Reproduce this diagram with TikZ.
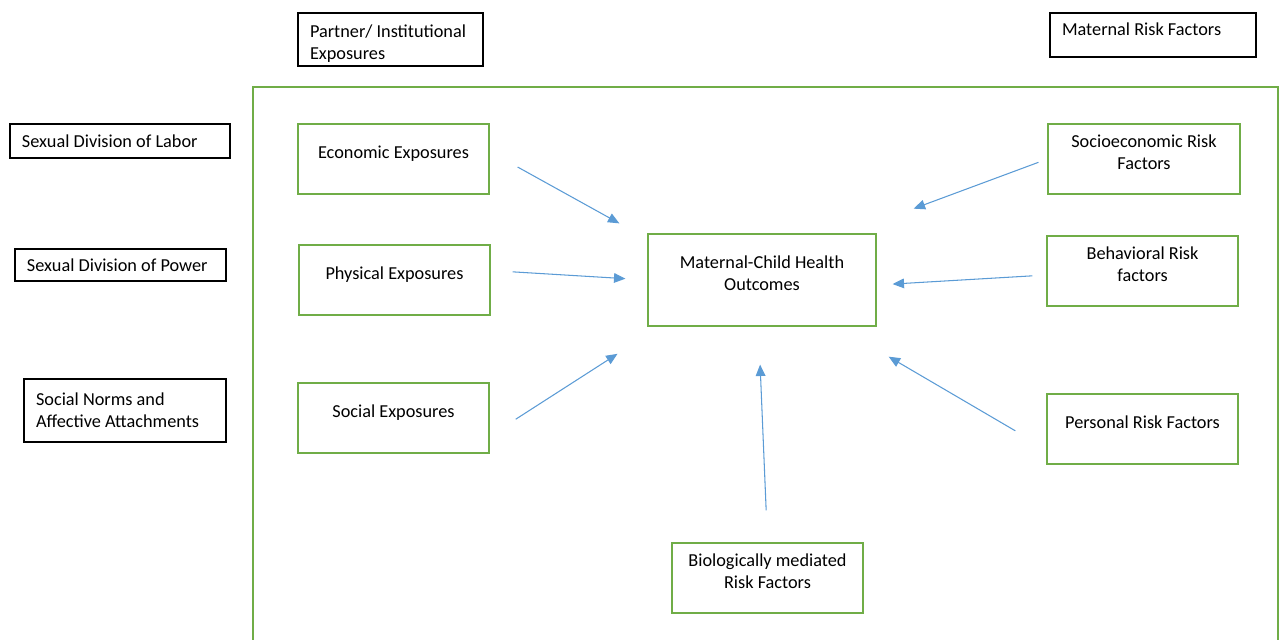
\documentclass[tikz,border=0pt]{standalone}
\usepackage{fontspec}
\setmainfont{Carlito}
\usetikzlibrary{arrows.meta}
\definecolor{boxgreen}{HTML}{70AD47}
\definecolor{arrowblue}{HTML}{5B9BD5}
\tikzstyle{factor} = [rectangle, draw=black, line width=0.8pt, align=flush left, inner xsep=0.24cm, inner ysep=0pt, font=\fontsize{10.4}{12.6}\selectfont]
\tikzstyle{expo} = [rectangle, draw=boxgreen, line width=0.7pt, minimum width=3.82cm, minimum height=1.4cm, align=center, text depth=8pt, font=\fontsize{10.4}{12.8}\selectfont]
\tikzstyle{arrow} = [draw=arrowblue, line width=0.6pt, -{Triangle[length=6.5pt,width=5.5pt]}]

\begin{document}
\begin{tikzpicture}
\useasboundingbox (0,0) rectangle (25.64,-12.78);
% outer frame
\draw [boxgreen, line width=0.7pt] (5.06,-13.2) |- (25.56,-1.74) -- (25.56,-13.2);
% black headings
\node (partner) [factor, minimum width=3.70cm, minimum height=1.06cm, text width=3.22cm, text depth=10pt] at (7.81,-0.79) {Partner/ Institutional\\Exposures};
\node (maternal) [factor, minimum width=4.12cm, minimum height=0.88cm, text width=3.64cm, text depth=7pt] at (23.06,-0.70) {Maternal Risk Factors};
\node (labor) [factor, minimum width=4.40cm, minimum height=0.68cm, text width=3.92cm] at (2.40,-2.82) {Sexual Division of Labor};
\node (power) [factor, minimum width=4.22cm, minimum height=0.64cm, text width=3.74cm] at (2.41,-5.30) {Sexual Division of Power};
\node (norms) [factor, minimum width=4.04cm, minimum height=1.26cm, text width=3.56cm] at (2.50,-8.21) {Social Norms and\\Affective Attachments};
% green boxes
\node (econ) [expo] at (7.87,-3.18) {Economic Exposures};
\node (phys) [expo] at (7.89,-5.60) {Physical Exposures};
\node (social) [expo] at (7.87,-8.36) {Social Exposures};
\node (mch) [expo, minimum width=4.56cm, minimum height=1.84cm] at (15.24,-5.60) {Maternal-Child Health\\Outcomes};
\node (socio) [expo, minimum width=3.84cm] at (22.88,-3.18) {Socioeconomic Risk\\Factors};
\node (behav) [expo] at (22.85,-5.42) {Behavioral Risk\\factors};
\node (personal) [expo] at (22.85,-8.58) {Personal Risk Factors};
\node (bio) [expo] at (15.35,-11.56) {Biologically mediated\\Risk Factors};
% arrows
\draw [arrow, shorten <=0.64cm, shorten >=0.64cm] ([yshift=0.15cm]econ.east) -- ([yshift=-0.11cm]mch.north west);
\draw [arrow, shorten <=0.44cm, shorten >=0.44cm] ([yshift=0.19cm]phys.east) -- (mch.west);
\draw [arrow, shorten <=0.62cm, shorten >=0.71cm] ([yshift=-0.36cm]social.east) -- ([yshift=-0.16cm]mch.south west);
\draw [arrow, shorten <=0.19cm, shorten >=0.79cm] (socio.west) -- ([yshift=0.22cm]mch.north east);
\draw [arrow, shorten <=0.28cm, shorten >=0.32cm] ([yshift=-0.08cm]behav.west) -- ([yshift=-0.10cm]mch.east);
\draw [arrow, shorten <=0.72cm, shorten >=0.28cm] ([yshift=-0.40cm]personal.west) -- ([yshift=-0.46cm]mch.south east);
\draw [arrow, shorten <=0.64cm, shorten >=0.76cm] (bio.north) -- ([xshift=-0.07cm]mch.south);
\end{tikzpicture}
\end{document}
